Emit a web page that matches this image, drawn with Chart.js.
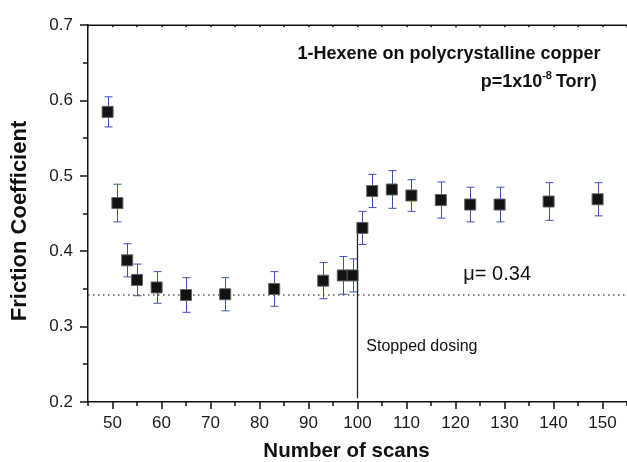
<!DOCTYPE html>
<html>
<head>
<meta charset="utf-8">
<script src="https://cdn.jsdelivr.net/npm/chart.js@4.4.1/dist/chart.umd.min.js"></script>
<style>
  html, body { margin: 0; padding: 0; background: #fff; }
  #wrap { width: 627px; height: 462px; }
</style>
</head>
<body>
<div id="wrap"><canvas id="grafico" width="627" height="462"></canvas></div>
<script>
// numero de varreduras vs. coeficiente de atrito
const scans = [49, 51, 53, 55, 59, 65, 73, 83, 93, 97, 99, 101, 103, 107, 111, 117, 123, 129, 139, 149];
const friction = [0.585, 0.464, 0.388, 0.362, 0.352, 0.342, 0.343, 0.350, 0.361, 0.368, 0.368, 0.431, 0.480, 0.482, 0.474, 0.468, 0.462, 0.462, 0.466, 0.469];
const erros = [0.020, 0.025, 0.022, 0.021, 0.021, 0.023, 0.022, 0.023, 0.024, 0.025, 0.022, 0.022, 0.022, 0.025, 0.021, 0.024, 0.023, 0.023, 0.025, 0.022];

const media = 0.342;          // linha pontilhada mu
const xLimites = [45, 155];
const yLimites = [0.2, 0.7];
const paradaX = 100;          // "Stopped dosing"
const paradaY = [0.205, 0.432];

const fonte = "'Liberation Sans', Arial, Helvetica, sans-serif";

const pontos = scans.map((x, i) => ({ x: x, y: friction[i] }));

// barras de erro desenhadas antes dos marcadores
const barrasErro = {
    id: 'barrasErro',
    beforeDatasetsDraw(chart) {
        const { ctx, scales: { x, y } } = chart;
        ctx.save();
        ctx.strokeStyle = '#3d52b0';
        ctx.lineWidth = 1;
        scans.forEach((s, i) => {
            const px = Math.round(x.getPixelForValue(s)) + 0.5;
            const top = y.getPixelForValue(friction[i] + erros[i]);
            const bot = y.getPixelForValue(friction[i] - erros[i]);
            ctx.beginPath();
            ctx.moveTo(px, top); ctx.lineTo(px, bot);
            ctx.moveTo(px - 4, top); ctx.lineTo(px + 4, top);
            ctx.moveTo(px - 4, bot); ctx.lineTo(px + 4, bot);
            ctx.stroke();
        });
        ctx.restore();
    }
};

// marcas dos eixos, linha superior, titulos e textos
const extras = {
    id: 'extras',
    afterDraw(chart) {
        const { ctx, chartArea: a, scales: { x, y } } = chart;
        ctx.save();
        ctx.strokeStyle = '#111';
        ctx.lineWidth = 1.5;
        ctx.beginPath();
        ctx.moveTo(a.left, a.top); ctx.lineTo(a.right, a.top);
        ctx.stroke();

        ctx.beginPath();
        for (let v = 0; v <= 10; v++) {
            const py = Math.round(y.getPixelForValue(0.2 + v * 0.05));
            const len = v % 2 === 0 ? 8 : 5;
            ctx.moveTo(a.left - len, py); ctx.lineTo(a.left, py);
        }
        for (let v = 45; v <= 155; v += 5) {
            const px = Math.round(x.getPixelForValue(v));
            const len = v % 10 === 0 ? 7 : 4;
            ctx.moveTo(px, a.bottom); ctx.lineTo(px, a.bottom + len);
            ctx.moveTo(px, a.top); ctx.lineTo(px, a.top + 2);
        }
        ctx.stroke();

        ctx.fillStyle = '#111';
        ctx.textBaseline = 'middle';

        // titulos dos eixos
        ctx.textAlign = 'center';
        ctx.font = 'bold 20.5px ' + fonte;
        ctx.fillText('Number of scans', 346.5, 451);
        ctx.save();
        ctx.translate(20, 221);
        ctx.rotate(-Math.PI / 2);
        ctx.font = 'bold 22px ' + fonte;
        ctx.fillText('Friction Coefficient', 0, 0);
        ctx.restore();

        ctx.textAlign = 'right';
        ctx.font = 'bold 18px ' + fonte;
        ctx.fillText('1-Hexene on polycrystalline copper', x.getPixelForValue(149.6), y.getPixelForValue(0.662));
        // p=1x10^-8 Torr)
        const bx = x.getPixelForValue(148.8);
        const by = y.getPixelForValue(0.624);
        const fim = 'Torr)';
        ctx.fillText(fim, bx, by);
        let w = ctx.measureText(fim).width + 4;
        ctx.font = 'bold 11px ' + fonte;
        ctx.fillText('-8', bx - w, by - 7);
        w += ctx.measureText('-8').width;
        ctx.font = 'bold 18px ' + fonte;
        ctx.fillText('p=1x10', bx - w, by);

        ctx.textAlign = 'left';
        ctx.font = '20px ' + fonte;
        ctx.fillText('\u03bc= 0.34', x.getPixelForValue(121.6), y.getPixelForValue(0.369));
        ctx.font = '16px ' + fonte;
        ctx.fillText('Stopped dosing', x.getPixelForValue(101.8), y.getPixelForValue(0.273));
        ctx.restore();
    }
};

new Chart(document.getElementById('grafico'), {
    type: 'scatter',
    data: {
        datasets: [{
            data: pontos,
            pointStyle: 'rect',
            pointRadius: 7.8,
            pointHoverRadius: 7.8,
            backgroundColor: '#121212',
            borderColor: '#666',
            borderWidth: 1,
            order: 1
        }, {
            type: 'line',
            data: [{ x: xLimites[0], y: media }, { x: xLimites[1], y: media }],
            borderColor: '#555',
            borderWidth: 1.5,
            borderDash: [1.5, 3.5],
            pointRadius: 0,
            order: 3
        }, {
            type: 'line',
            data: [{ x: paradaX, y: paradaY[0] }, { x: paradaX, y: paradaY[1] }],
            borderColor: '#222',
            borderWidth: 1.3,
            pointRadius: 0,
            order: 2
        }]
    },
    options: {
        responsive: false,
        animation: false,
        devicePixelRatio: 1,
        layout: { autoPadding: false, padding: { top: 21, right: 0, left: 0, bottom: 0 } },
        plugins: { legend: { display: false }, tooltip: { enabled: false } },
        scales: {
            x: {
                type: 'linear',
                min: xLimites[0],
                max: xLimites[1],
                afterFit: s => { s.height = 60; s.paddingRight = 0; s.paddingLeft = 0; },
                border: { display: true, color: '#111', width: 1.5 },
                grid: { drawOnChartArea: false, drawTicks: false },
                ticks: {
                    stepSize: 5,
                    autoSkip: false,
                    maxRotation: 0,
                    padding: 11,
                    color: '#1a1a1a',
                    font: { family: fonte, size: 17 },
                    callback: v => (v % 10 === 0 ? v : '')
                }
            },
            y: {
                min: yLimites[0],
                max: yLimites[1],
                afterFit: s => { s.width = 88; },
                border: { display: true, color: '#111', width: 1.5 },
                grid: { drawOnChartArea: false, drawTicks: false },
                ticks: {
                    stepSize: 0.1,
                    padding: 15,
                    color: '#1a1a1a',
                    font: { family: fonte, size: 17 },
                    callback: v => v.toFixed(1)
                }
            }
        }
    },
    plugins: [barrasErro, extras]
});
</script>
</body>
</html>
